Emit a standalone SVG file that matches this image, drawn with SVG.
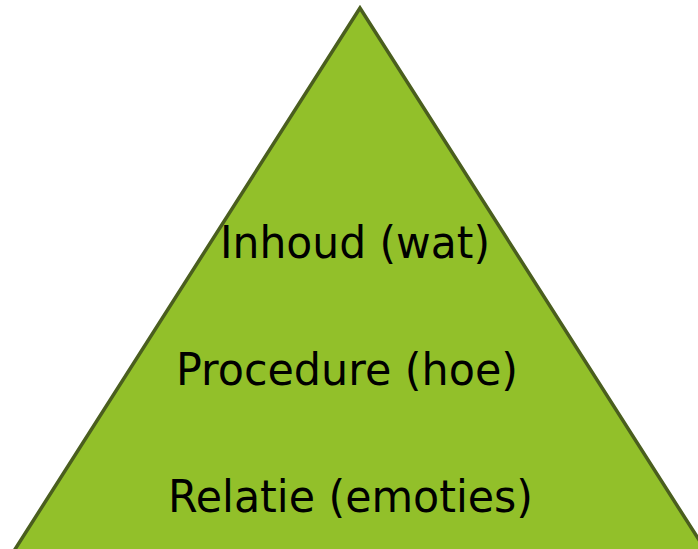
<svg xmlns="http://www.w3.org/2000/svg" width="698" height="549" viewBox="0 0 698 549">
<style>
.lbl{font-family:"DejaVu Sans","Liberation Sans",sans-serif;font-size:45px;fill:#000;text-anchor:middle}
</style>
<rect width="698" height="549" fill="#fff"/>
<g id="pyramid">
<polygon points="360,8 5,565 715,565" fill="#92c02a" stroke="#4a5e1e" stroke-width="3.5" stroke-linejoin="miter"/>
</g>
<g id="inhoud"><text class="lbl" x="355" y="258" textLength="270" lengthAdjust="spacingAndGlyphs">Inhoud (wat)</text></g>
<g id="procedure"><text class="lbl" x="347" y="385" textLength="342" lengthAdjust="spacingAndGlyphs">Procedure (hoe)</text></g>
<g id="relatie"><text class="lbl" x="350.5" y="512" textLength="365" lengthAdjust="spacingAndGlyphs">Relatie (emoties)</text></g>
</svg>
